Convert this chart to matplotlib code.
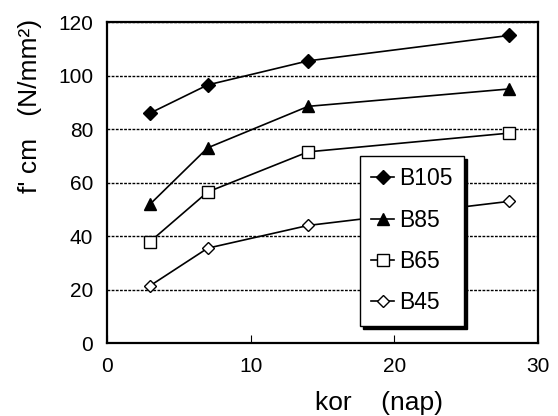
import matplotlib.pyplot as plt

plt.rcParams['font.family'] = ['Liberation Sans', 'DejaVu Sans']

# age in days
days = [3, 7, 14, 28]
# strength values per concrete class
b105 = [86, 96.5, 105.5, 115]
b85 = [52, 73, 88.5, 95]
b65 = [38, 56.5, 71.5, 78.5]
b45 = [21.5, 35.5, 44, 53]
labels = ['B105', 'B85', 'B65', 'B45']

fig = plt.figure(figsize=(5.58, 4.16), dpi=100)
ax = fig.add_axes([0.192, 0.175, 0.772, 0.772])

ax.plot(days, b105, 'k-', marker='D', ms=7, mfc='k', lw=1.2, label=labels[0])
ax.plot(days, b85, 'k-', marker='^', ms=9, mfc='k', lw=1.2, label=labels[1])
ax.plot(days, b65, 'k-', marker='s', ms=9, mfc='white', lw=1.2, label=labels[2])
ax.plot(days, b45, 'k-', marker='D', ms=6, mfc='white', lw=1.2, label=labels[3])

ax.set_xlim(0, 30)
ax.set_ylim(0, 120)
ax.set_xticks([0, 10, 20, 30])
ax.set_yticks([0, 20, 40, 60, 80, 100, 120])
ax.yaxis.grid(True, color='k', ls=(0, (2, 1)), lw=1.0)
ax.set_axisbelow(True)
ax.tick_params(direction='in', labelsize=15, length=6, color='k')
ax.tick_params(axis='y', length=0, pad=10)
ax.tick_params(axis='x', pad=10)
for s in ax.spines.values():
    s.set_linewidth(1.6)

ax.set_xlabel('kor    (nap)', fontsize=19)
ax.xaxis.set_label_coords(0.63, -0.15)
ax.set_ylabel("f' cm   (N/mm²)", fontsize=19)
ax.yaxis.set_label_coords(-0.152, 0.738)

leg = ax.legend(loc='upper left', bbox_to_anchor=(0.587, 0.583), fontsize=16.5,
                frameon=True, fancybox=False, shadow={'color': 'k', 'alpha': 1},
                handlelength=1.0, handletextpad=0.2, labelspacing=0.8,
                borderpad=0.5, borderaxespad=0, framealpha=1)
leg.get_frame().set_edgecolor('k')
leg.get_frame().set_linewidth(1.0)

fig.savefig('out.png', dpi=100)
